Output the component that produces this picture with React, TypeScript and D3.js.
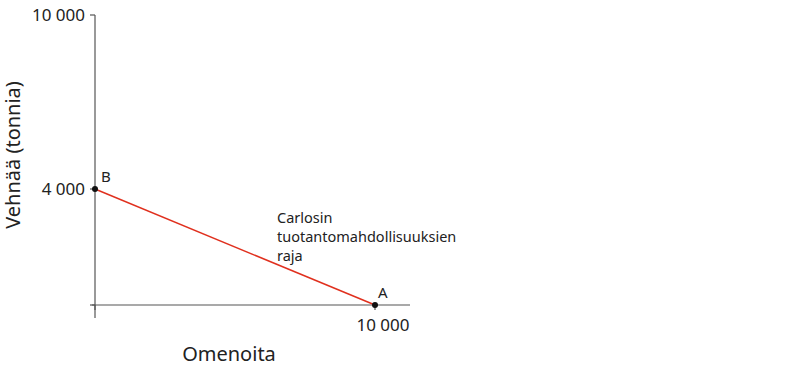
import React from "react";
import * as d3 from "d3";

// Production possibilities frontier: apples (x) vs wheat (y), tonnes
const frontierPoints = [
  { label: "B", apples: 0, wheat: 4000 },
  { label: "A", apples: 10000, wheat: 0 },
];
const yTicks = [0, 4000, 10000];
const xTicks = [0, 10000];
const xTickLabels = ["", "10 000"];
const yTickLabels = ["", "4 000", "10 000"];
const annotationLines = ["Carlosin", "tuotantomahdollisuuksien", "raja"];

const W = 809;
const H = 371;
const FONT = "'Noto Sans', sans-serif";
const AXIS = "#555";

export default function App() {
  const x = d3.scaleLinear().domain([0, 10000]).range([95, 375]);
  const y = d3.scaleLinear().domain([0, 10000]).range([305, 15]);
  const line = d3
    .line<{ apples: number; wheat: number }>()
    .x((d) => x(d.apples))
    .y((d) => y(d.wheat));

  return (
    <svg
      width={W}
      height={H}
      style={{ position: "absolute", left: 0, top: 0, background: "#fff" }}
      fontFamily={FONT}
    >
      {/* axes */}
      <line x1={x(0)} x2={x(0)} y1={y(10000)} y2={318} stroke={AXIS} strokeWidth={1.2} />
      <line x1={92} x2={410} y1={y(0)} y2={y(0)} stroke={AXIS} strokeWidth={1.2} />
      {yTicks.map((t, i) => (
        <g key={"y" + t}>
          <line x1={x(0) - 5} x2={x(0)} y1={y(t)} y2={y(t)} stroke={AXIS} strokeWidth={1.2} />
          <text x={x(0) - 10} y={y(t)} dy="0.35em" textAnchor="end" fontSize={17} fill="#222">
            {yTickLabels[i]}
          </text>
        </g>
      ))}
      {xTicks.map((t, i) => (
        <g key={"x" + t}>
          <line x1={x(t)} x2={x(t)} y1={y(0)} y2={y(0) + 5} stroke={AXIS} strokeWidth={1.2} />
          <text x={x(t) + 8} y={y(0) + 26} textAnchor="middle" fontSize={17} fill="#222">
            {xTickLabels[i]}
          </text>
        </g>
      ))}

      {/* axis titles */}
      <text x={229} y={361} textAnchor="middle" fontSize={20} fill="#222">
        Omenoita
      </text>
      <text
        transform={`translate(20,155) rotate(-90)`}
        textAnchor="middle"
        fontSize={20}
        fill="#222"
      >
        Vehnää (tonnia)
      </text>

      {/* frontier */}
      <path d={line(frontierPoints) ?? ""} fill="none" stroke="#e0301e" strokeWidth={1.5} />
      {frontierPoints.map((p) => (
        <g key={p.label}>
          <circle cx={x(p.apples)} cy={y(p.wheat)} r={3} fill="#111" />
          <text
            x={x(p.apples) + (p.apples === 0 ? 6 : 3)}
            y={y(p.wheat) - 7}
            fontSize={15}
            fill="#222"
          >
            {p.label}
          </text>
        </g>
      ))}

      {/* annotation */}
      <text x={277} y={223} fontSize={14.5} fill="#222">
        {annotationLines.map((l, i) => (
          <tspan key={i} x={277} dy={i === 0 ? 0 : 19}>
            {l}
          </tspan>
        ))}
      </text>
    </svg>
  );
}
